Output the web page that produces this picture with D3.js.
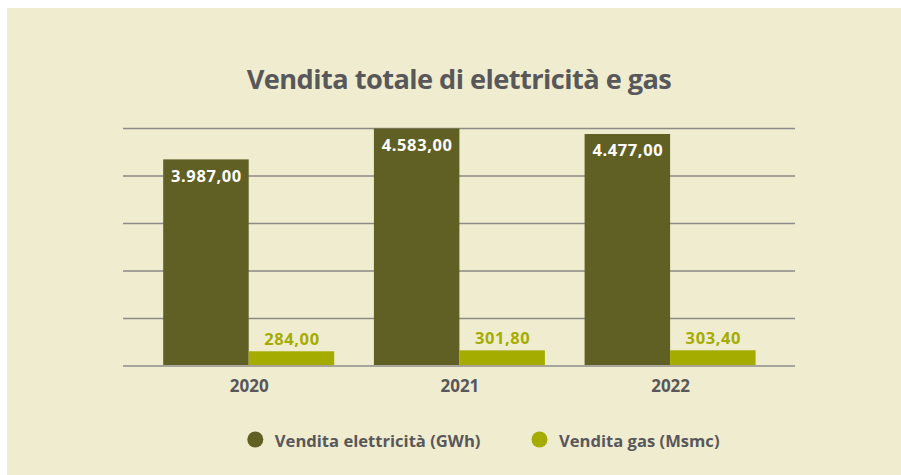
<!DOCTYPE html>
<html><head><meta charset="utf-8">
<script src="https://cdn.jsdelivr.net/npm/d3@7"></script>
<style>html,body{margin:0;padding:0;background:#fff;}svg{display:block;}</style>
</head><body>
<script>
const years = ["2020", "2021", "2022"];
const seriesNames = ["Vendita elettricità (GWh)", "Vendita gas (Msmc)"];
const elettricita = [3987.00, 4583.00, 4477.00];
const gas = [284.00, 301.80, 303.40];
const colors = ["#605f24", "#a4ac00"];
const title = "Vendita totale di elettricità e gas";

const W = 901, H = 475;
const fmt = v => v.toLocaleString("it-IT", {minimumFractionDigits: 2, maximumFractionDigits: 2});
const FONT = "'Open Sans', sans-serif";

const svg = d3.select("body").append("svg").attr("width", W).attr("height", H);
svg.append("rect").attr("x", 7).attr("y", 8).attr("width", W - 7).attr("height", H - 8).attr("fill", "#f0ecd0");

const yMax = d3.max(elettricita);
const y = d3.scaleLinear().domain([0, yMax]).range([366, 128.5]);
const x = d3.scaleBand().domain(years).range([143.35, 775.45]).padding(0);
const xs = d3.scaleBand().domain([0, 1]).range([x.bandwidth() / 2 - 85.5, x.bandwidth() / 2 + 85.5]).padding(0);

// gridlines
const gridTicks = d3.range(1, 6).map(i => yMax * i / 5);
svg.append("g").selectAll("line").data(gridTicks).join("line")
  .attr("x1", 123).attr("x2", 795)
  .attr("y1", d => y(d)).attr("y2", d => y(d))
  .attr("stroke", "#8b8a84").attr("stroke-width", 1.5);

const data = years.map((yr, i) => ({year: yr, vals: [elettricita[i], gas[i]]}));
const g = svg.append("g").selectAll("g").data(data).join("g")
  .attr("transform", d => `translate(${x(d.year)},0)`);
g.selectAll("rect").data(d => d.vals.map((v, k) => ({v, k}))).join("rect")
  .attr("x", d => xs(d.k)).attr("width", xs.bandwidth())
  .attr("y", d => y(d.v)).attr("height", d => y(0) - y(d.v))
  .attr("fill", d => colors[d.k]);
g.selectAll("text.val").data(d => d.vals.map((v, k) => ({v, k}))).join("text")
  .attr("class", "val")
  .attr("x", d => xs(d.k) + xs.bandwidth() / 2 + 0.5)
  .attr("y", d => d.k === 0 ? y(d.v) + 22.5 : y(d.v) - 6.5)
  .attr("text-anchor", "middle")
  .attr("font-family", FONT).attr("font-weight", 700).attr("font-size", 16.5)
  .attr("letter-spacing", 0.6)
  .attr("fill", d => d.k === 0 ? "#ffffff" : colors[1])
  .text(d => fmt(d.v));

// baseline
svg.append("line").attr("x1", 123).attr("x2", 795).attr("y1", y(0)).attr("y2", y(0))
  .attr("stroke", "#a7a59b").attr("stroke-width", 2);

// x axis labels
const xAxis = d3.axisBottom(d3.scalePoint().domain(years).range([x("2020") + x.bandwidth() / 2, x("2022") + x.bandwidth() / 2])).tickSize(0).tickPadding(0);
const ax = svg.append("g").attr("transform", `translate(0,${y(0)})`).call(xAxis);
ax.select(".domain").remove();
ax.selectAll("text").attr("dy", 0).attr("y", 25.5)
  .attr("font-family", FONT).attr("font-weight", 700).attr("font-size", 17).attr("fill", "#58575a");

// title
svg.append("text").attr("x", 459).attr("y", 88.5).attr("text-anchor", "middle")
  .attr("font-family", FONT).attr("font-weight", 700).attr("font-size", 27.2)
  .attr("letter-spacing", -0.55).attr("fill", "#58575a")
  .text(title);

// legend
const legX = [255.3, 539.5];
const leg = svg.append("g").selectAll("g").data(seriesNames).join("g")
  .attr("transform", (d, i) => `translate(${legX[i]},439.5)`);
leg.append("circle").attr("r", 8).attr("fill", (d, i) => colors[i]);
leg.append("text").attr("x", 19.5).attr("y", 7.5)
  .attr("font-family", FONT).attr("font-weight", 700).attr("font-size", 16.6).attr("fill", "#58575a")
  .text(d => d);
</script>
</body></html>
